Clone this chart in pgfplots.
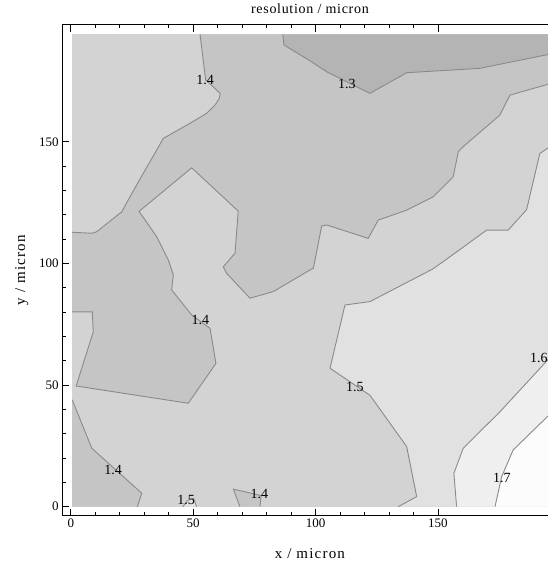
\documentclass[border=0pt]{standalone}
\usepackage{fontspec}
\setmainfont{Liberation Serif}
\usepackage{pgfplots}
\pgfplotsset{compat=1.18}
% contour shades, darkest = lowest level
\definecolor{lvA}{HTML}{B4B4B4}
\definecolor{lvB}{HTML}{C5C5C5}
\definecolor{lvC}{HTML}{D3D3D3}
\definecolor{lvD}{HTML}{E1E1E1}
\definecolor{lvE}{HTML}{EFEFEF}
\definecolor{lvF}{HTML}{FCFCFC}
\definecolor{cline}{HTML}{8A8A8A}
\tikzset{cl/.style={cline, line width=0.9pt, mark=none}}

\begin{document}
\begin{tikzpicture}
\begin{axis}[
  x=2.449pt, y=2.433pt,
  xmin=-3.5, xmax=198.9, ymin=-3.7, ymax=198.2,
  xtick={0,50,100,150}, ytick={0,50,100,150},
  minor x tick num=4, minor y tick num=4,
  tick align=inside,
  major tick length=7pt, minor tick length=3.5pt,
  tick style={black, line width=0.8pt},
  axis line style={line width=1pt},
  /pgf/number format/assume math mode=true,
  ticklabel style={font=\fontsize{13}{15}\selectfont},
  xlabel={x / micron}, ylabel={y / micron},
  xlabel style={yshift=-14pt},
  ylabel style={yshift=4pt},
  title={resolution / micron},
  label style={font=\fontsize{15}{17}\selectfont\addfontfeature{LetterSpace=8}},
  title style={font=\fontsize{14}{16}\selectfont\addfontfeature{LetterSpace=5}, yshift=1pt},
  clip=false,
]
% background band 1.4-1.5
\addplot[fill=lvC, draw=none] coordinates {(0.6,0)(195,0)(195,194.2)(0.6,194.2)} -- cycle;
% band 1.3-1.4
\addplot[fill=lvB, draw=none] coordinates {
 (52.8,194.2)(195,194.2)(195,173.6)(193.7,173.3)(179.4,169.2)(175.3,161.0)(160.3,148.0)
 (158.3,145.9)(156.2,135.6)(148.1,127.4)(137.2,121.9)(125.6,117.8)(121.5,110.3)(104.5,115.8)
 (102.5,115.4)(99.1,98.0)(97.7,97.3)(82.7,88.4)(73.2,85.7)(63.7,95.9)(62.3,98.6)(67.1,104.2)
 (68.4,121.5)(49.4,139.3)(27.9,121.4)(35.1,111.0)(39.9,101.3)(41.9,95.3)(41.2,89.1)(49.4,78.8)
 (56.9,73.3)(59.3,58.9)(48.0,42.5)(2.2,49.6)(9.2,71.9)(8.8,80.1)(0.6,80.1)(0.6,112.8)
 (8.6,112.4)(10.6,113.0)(20.8,121.2)(24.2,127.4)(29.6,137.0)(35.1,146.6)(37.8,151.4)
 (48.7,157.6)(55.5,161.7)(58.9,165.1)(60.7,167.9)(61.0,169.9)(58.2,172.6)(55.1,175.4)(52.8,194.2)} -- cycle;
\addplot[fill=lvB, draw=none] coordinates {(0.6,0)(0.6,43.9)(8.6,24.0)(29.0,5.5)(27.2,0)} -- cycle;
\addplot[fill=lvB, draw=none] coordinates {(69.1,0)(66.4,7.2)(72.5,5.8)(77.8,4.5)(77.3,0)} -- cycle;
% below 1.3
\addplot[fill=lvA, draw=none] coordinates {
 (86.6,194.2)(87.1,189.8)(97.7,183.3)(104.5,178.8)(122.2,169.9)(137.2,178.4)(167.1,180.2)
 (195,185.9)(195,194.2)} -- cycle;
% 1.5-1.6
\addplot[fill=lvD, draw=none] coordinates {(45.8,0)(47.8,2.6)(50.2,3.4)(51.4,0)} -- cycle;
\addplot[fill=lvD, draw=none] coordinates {
 (133.8,0)(141.3,4.1)(137.2,24.7)(122.2,45.8)(105.9,56.9)(112.0,82.9)(122.2,84.3)(147.7,97.6)
 (152.9,101.3)(169.9,113.7)(178.7,113.7)(186.2,122.1)(191.6,145.2)(195,147.5)(195,0)} -- cycle;
% 1.6-1.7
\addplot[fill=lvE, draw=none] coordinates {
 (157.6,0)(156.5,13.7)(160.3,24.0)(175.3,39.0)(195,60.5)(195,0)} -- cycle;
% above 1.7
\addplot[fill=lvF, draw=none] coordinates {
 (173.3,0)(176.0,12.3)(180.7,23.3)(195,37.3)(195,0)} -- cycle;

% contour lines
\addplot[cl] coordinates {(0.6,112.8)(8.6,112.4)(10.6,113.0)(20.8,121.2)(24.2,127.4)(29.6,137.0)
 (35.1,146.6)(37.8,151.4)(48.7,157.6)(55.5,161.7)(58.9,165.1)(60.7,167.9)(61.0,169.9)(58.2,172.6)
 (55.1,175.4)(52.8,194.2)};
\addplot[cl] coordinates {(0.6,80.1)(8.8,80.1)(9.2,71.9)(2.2,49.6)(48.0,42.5)(59.3,58.9)(56.9,73.3)
 (49.4,78.8)(41.2,89.1)(41.9,95.3)(39.9,101.3)(35.1,111.0)(27.9,121.4)(49.4,139.3)(68.4,121.5)
 (67.1,104.2)(62.3,98.6)(63.7,95.9)(73.2,85.7)(82.7,88.4)(97.7,97.3)(99.1,98.0)(102.5,115.4)
 (104.5,115.8)(121.5,110.3)(125.6,117.8)(137.2,121.9)(148.1,127.4)(156.2,135.6)(158.3,145.9)
 (160.3,148.0)(175.3,161.0)(179.4,169.2)(193.7,173.3)(195,173.6)};
\addplot[cl] coordinates {(86.6,194.2)(87.1,189.8)(97.7,183.3)(104.5,178.8)(122.2,169.9)(137.2,178.4)
 (167.1,180.2)(195,185.9)};
\addplot[cl] coordinates {(0.6,43.9)(8.6,24.0)(29.0,5.5)(27.2,0)};
\addplot[cl] coordinates {(69.1,0)(66.4,7.2)(72.5,5.8)(77.8,4.5)(77.3,0)};
\addplot[cl] coordinates {(45.8,0)(47.8,2.6)(50.2,3.4)(51.4,0)};
\addplot[cl] coordinates {(133.8,0)(141.3,4.1)(137.2,24.7)(122.2,45.8)(105.9,56.9)(112.0,82.9)
 (122.2,84.3)(147.7,97.6)(152.9,101.3)(169.9,113.7)(178.7,113.7)(186.2,122.1)(191.6,145.2)(195,147.5)};
\addplot[cl] coordinates {(157.6,0)(156.5,13.7)(160.3,24.0)(175.3,39.0)(195,60.5)};
\addplot[cl] coordinates {(173.3,0)(176.0,12.3)(180.7,23.3)(195,37.3)};

% contour labels
\begin{scope}[every node/.style={font=\fontsize{14}{16}\selectfont, inner sep=0pt}]
\node at (axis cs:54.9,175.4) {1.4};
\node at (axis cs:112.8,173.7) {1.3};
\node at (axis cs:52.9,76.7) {1.4};
\node at (axis cs:116.1,49.0) {1.5};
\node at (axis cs:191.2,61.1) {1.6};
\node at (axis cs:176.1,11.8) {1.7};
\node at (axis cs:17.3,15.1) {1.4};
\node at (axis cs:47.1,2.8) {1.5};
\node at (axis cs:77.0,5.2) {1.4};
\end{scope}

\coordinate (bbSW) at (axis cs:-28.9,-27.7);
\coordinate (bbNE) at (axis cs:194.9,208.3);
\end{axis}
\pgfresetboundingbox
\useasboundingbox (bbSW) rectangle (bbNE);
\end{tikzpicture}
\end{document}
